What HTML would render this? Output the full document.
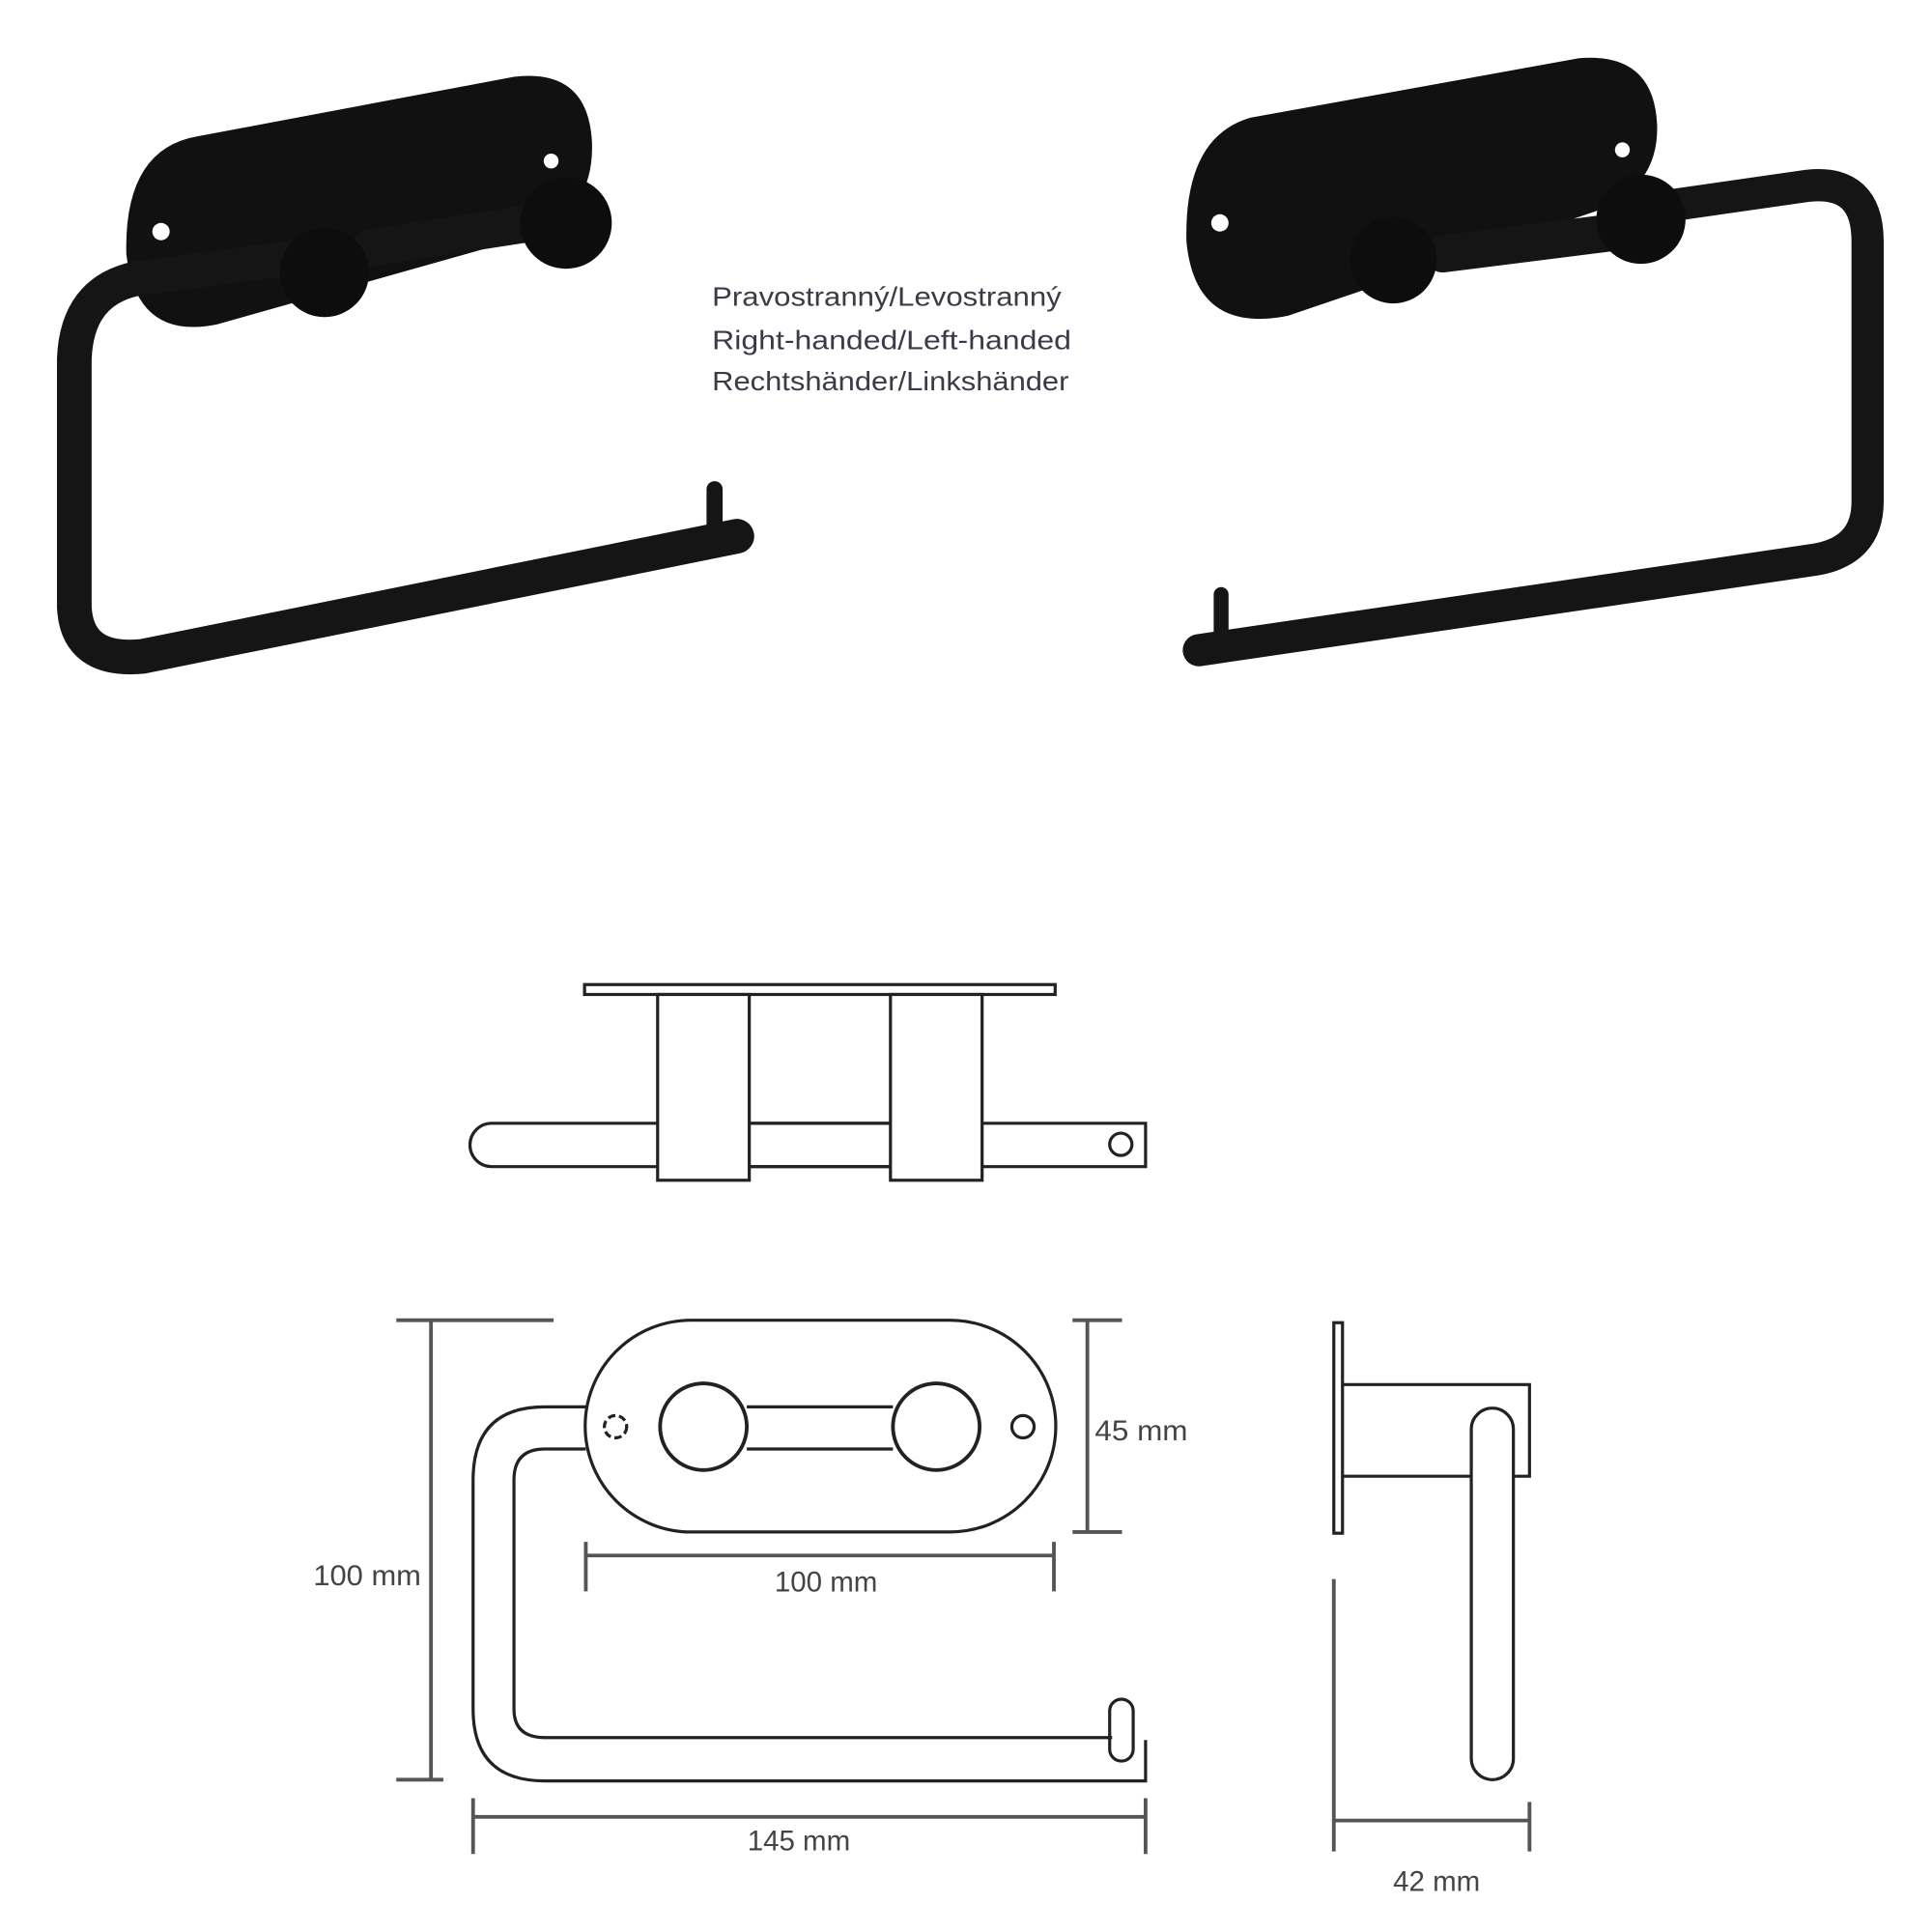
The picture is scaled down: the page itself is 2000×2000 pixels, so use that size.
<!DOCTYPE html>
<html><head><style>html,body{margin:0;padding:0;background:#fff;}svg{display:block;}</style></head>
<body>
<svg width="2000" height="2000" viewBox="0 0 1560 1560" xmlns="http://www.w3.org/2000/svg">
<rect width="1560" height="1560" fill="#fff"/>
<!-- Left product -->
<g fill="#111" stroke="none">
<path d="M160,110 L415,62 Q475,55 478,115 Q480,170 430,190 L175,262 Q110,275 102,205 Q100,120 160,110 Z"/>
</g>
<g fill="none" stroke="#151515" stroke-linecap="round" stroke-linejoin="round">
<path d="M260,205 L110,225 Q62,235 60,290 L60,490 Q62,535 115,530 L595,433" stroke-width="28"/>
<path d="M300,200 L430,180" stroke-width="30"/>
<line x1="577" y1="395" x2="577" y2="425" stroke-width="13"/>
</g>
<circle cx="130" cy="187" r="7" fill="#fff"/>
<circle cx="445" cy="130" r="6" fill="#fff"/>
<circle cx="262" cy="220" r="36" fill="#0d0d0d"/>
<circle cx="457" cy="180" r="37" fill="#0d0d0d"/>
<!-- Right product -->
<g fill="#111">
<path d="M1010,95 L1275,47 Q1335,42 1338,100 Q1340,150 1290,170 L1040,255 Q965,270 958,195 Q956,110 1010,95 Z"/>
</g>
<g fill="none" stroke="#151515" stroke-linecap="round" stroke-linejoin="round">
<path d="M1320,170 L1460,150 Q1508,145 1508,195 L1508,405 Q1508,445 1465,452 L968,525" stroke-width="26"/>
<path d="M1165,205 L1300,188" stroke-width="30"/>
<line x1="986" y1="480" x2="986" y2="510" stroke-width="12"/>
</g>
<circle cx="985" cy="180" r="7" fill="#fff"/>
<circle cx="1310" cy="121" r="6" fill="#fff"/>
<circle cx="1125" cy="210" r="35" fill="#0d0d0d"/>
<circle cx="1325" cy="177" r="36" fill="#0d0d0d"/>
<!-- Text -->
<g font-family="Liberation Sans, sans-serif" font-size="22" fill="#3a3a48" textLength="280">
<text x="575" y="247" textLength="282" lengthAdjust="spacingAndGlyphs">Pravostranný/Levostranný</text>
<text x="575" y="282" textLength="290" lengthAdjust="spacingAndGlyphs">Right-handed/Left-handed</text>
<text x="575" y="315" textLength="288" lengthAdjust="spacingAndGlyphs">Rechtshänder/Linkshänder</text>
</g>
<!-- Top view -->
<g fill="#fff" stroke="#222" stroke-width="2.5">
<rect x="472" y="795" width="380" height="8"/>
<path d="M397,907 L925,907 L925,942 L397,942 A17.5,17.5 0 0 1 397,907 Z"/>
<circle cx="905" cy="924" r="9"/>
<rect x="531" y="803" width="74" height="150"/>
<rect x="719" y="803" width="74" height="150"/>
<path d="M605,907 L719,907 M605,942 L719,942" fill="none"/>
</g>
<!-- Front view -->
<g fill="none" stroke="#222" stroke-width="2.5">
<path d="M558,1066 L767,1066 A85.5,85.5 0 0 1 767,1237 L558,1237 A85.5,85.5 0 0 1 558,1066 Z"/>
<path d="M473,1136 L440,1136 Q382,1136 382,1195 L382,1380 Q382,1438 440,1438 L925,1438 L925,1405"/>
<path d="M473,1170 L440,1170 Q415,1170 415,1195 L415,1380 Q415,1403 440,1403 L898,1403"/>
<rect x="896" y="1372" width="19" height="50" rx="9.5"/>
<path d="M603,1136 L721,1136 M603,1170 L721,1170"/>
<circle cx="568" cy="1152" r="35" stroke-width="3"/>
<circle cx="756" cy="1152" r="35" stroke-width="3"/>
<circle cx="497" cy="1152" r="9" stroke-dasharray="6 3"/>
<circle cx="826" cy="1152" r="9"/>
</g>
<!-- Side view -->
<g fill="none" stroke="#222" stroke-width="2.5">
<rect x="1077" y="1068" width="7" height="170" fill="#fff"/>
<path d="M1084,1118 L1235,1118 L1235,1192 L1220,1192 M1084,1192 L1188,1192"/>
<rect x="1188" y="1137" width="34" height="300" rx="17" fill="#fff"/>
</g>
<!-- Dimensions -->
<g fill="none" stroke="#555" stroke-width="3">
<path d="M348,1066 L348,1437 M320,1066 L447,1066 M320,1437 L358,1437"/>
<path d="M878,1066 L878,1237 M866,1066 L906,1066 M866,1237 L906,1237"/>
<path d="M473,1256 L851,1256 M473,1245 L473,1285 M851,1245 L851,1285"/>
<path d="M382,1467 L925,1467 M382,1452 L382,1497 M925,1452 L925,1497"/>
<path d="M1077,1275 L1077,1495 M1235,1455 L1235,1495 M1077,1470 L1235,1470"/>
</g>
<g font-family="Liberation Sans, sans-serif" font-size="23" fill="#444">
<text x="253" y="1280" textLength="87" lengthAdjust="spacingAndGlyphs">100 mm</text>
<text x="884" y="1163" textLength="75" lengthAdjust="spacingAndGlyphs">45 mm</text>
<text x="667" y="1285" text-anchor="middle">100 mm</text>
<text x="645" y="1494" text-anchor="middle">145 mm</text>
<text x="1160" y="1527" text-anchor="middle">42 mm</text>
</g>
</svg>
</body></html>
